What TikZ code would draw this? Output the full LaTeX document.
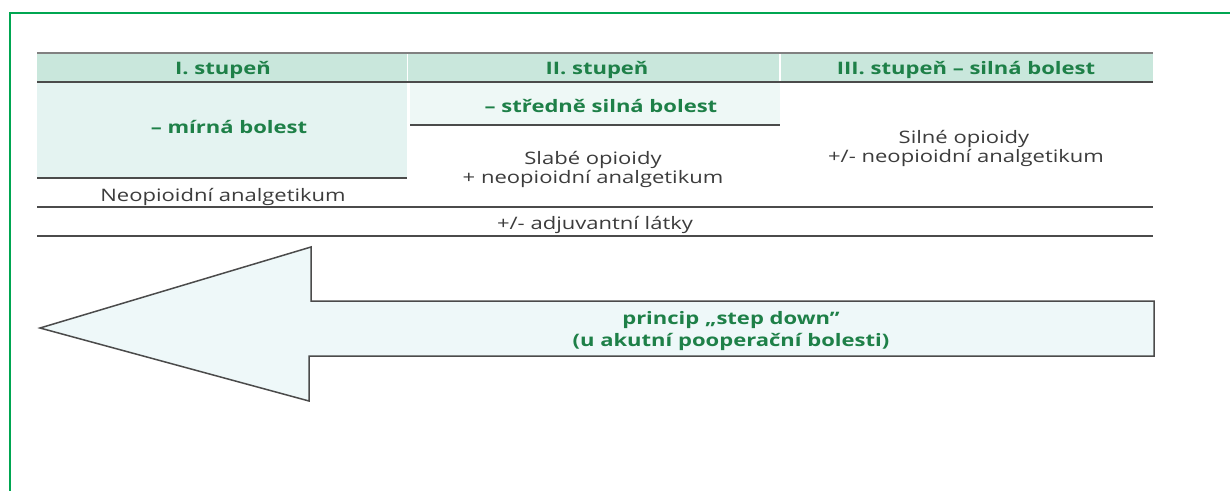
\documentclass[tikz,border=0pt]{standalone}
\usepackage{fontspec}
\setmainfont{Open Sans}[FakeStretch=1.28]
\definecolor{framegreen}{RGB}{0,166,81}
\definecolor{hdrfill}{RGB}{201,231,220}
\definecolor{colone}{RGB}{228,243,241}
\definecolor{coltwo}{RGB}{238,248,246}
\definecolor{arrowfill}{RGB}{238,248,249}
\definecolor{rulegray}{RGB}{75,75,75}
\definecolor{txtgreen}{RGB}{30,128,72}
\definecolor{txtgray}{RGB}{60,60,60}
\tikzset{
  rulebar/.style={draw=rulegray, line width=1.2pt},
  hd/.style={anchor=base, inner sep=0pt, font=\fontsize{17.2}{20}\selectfont\bfseries, text=txtgreen},
  tx/.style={anchor=base, inner sep=0pt, font=\fontsize{17.2}{20}\selectfont, text=txtgray},
  bigarrow/.style={draw=rulegray, line width=1.5pt, fill=arrowfill, line join=miter}
}
\begin{document}
\begin{tikzpicture}[x=1pt,y=-1pt]
\useasboundingbox (0,0) rectangle (1230,490);
\fill[white] (0,0) rectangle (1230,490);
% frame
\draw[framegreen, line width=2.6pt] (10,500) -- (10,13) -- (1240,13);
% fills
\fill[hdrfill] (37,53) rectangle (1153,82);
\fill[colone] (37,82) rectangle (407,178);
\fill[coltwo] (410,82) rectangle (780,125);
\draw[white, line width=1.5pt] (407.5,54) -- (407.5,81);
\draw[white, line width=1.5pt] (780,54) -- (780,81);
% rules
\draw[rulebar, draw=rulegray!70] (37,53) -- (1153,53);
\draw[rulebar] (37,82) -- (1153,82);
\draw[rulebar] (410,125) -- (780,125);
\draw[rulebar] (37,178) -- (407,178);
\draw[rulebar] (37,207) -- (1153,207);
\draw[rulebar] (37,236) -- (1153,236);
% arrow
\draw[bigarrow] (40,328) -- (311,247) -- (311,301) -- (1154,301) -- (1154,356) -- (309,356) -- (309,401) -- cycle;
% texts
\node[hd] (h1) at (223,74) {I. stupeň};
\node[hd] (h2) at (597,74) {II. stupeň};
\node[hd] (h3) at (966,74) {III. stupeň – silná bolest};
\node[hd] (s1) at (229,133) {– mírná bolest};
\node[hd] (s2) at (601,112) {– středně silná bolest};
\node[tx] (t2a) at (593,164) {Slabé opioidy};
\node[tx] (t2b) at (593,183) {+ neopioidní analgetikum};
\node[tx] (t3a) at (964,143) {Silné opioidy};
\node[tx] (t3b) at (966,162) {+/- neopioidní analgetikum};
\node[tx] (t1) at (223,201) {Neopioidní analgetikum};
\node[tx] (adj) at (595,229) {+/- adjuvantní látky};
\node[hd] (p1) at (731,324) {princip „step down”};
\node[hd] (p2) at (731,346) {(u akutní pooperační bolesti)};
\end{tikzpicture}
\end{document}
